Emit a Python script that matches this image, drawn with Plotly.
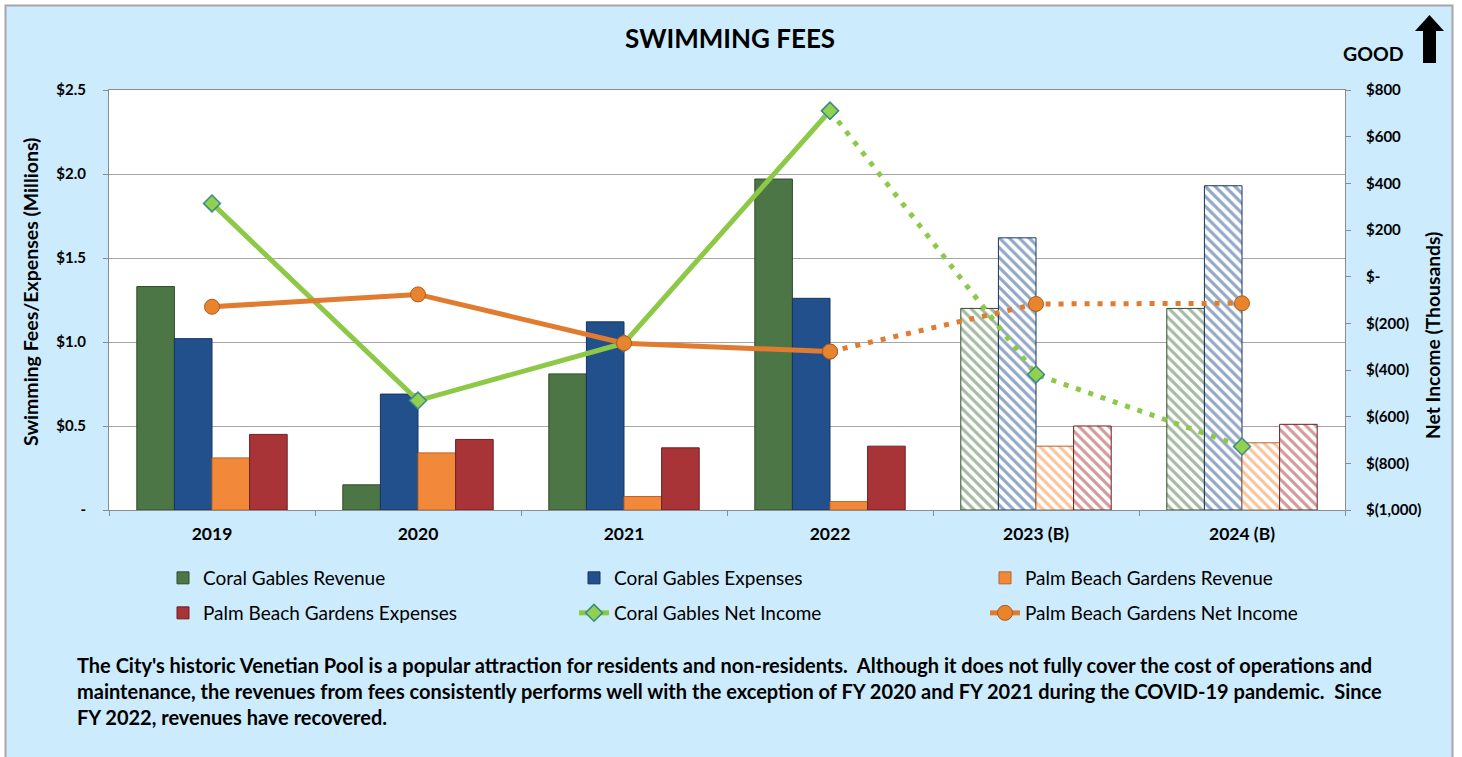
import plotly.graph_objects as go

# ---------------- data ----------------
years = ["2019", "2020", "2021", "2022", "2023 (B)", "2024 (B)"]
cg_revenue = [1.33, 0.15, 0.81, 1.97, 1.20, 1.20]          # $ millions
cg_expenses = [1.02, 0.69, 1.12, 1.26, 1.62, 1.93]
pbg_revenue = [0.31, 0.34, 0.08, 0.05, 0.38, 0.40]
pbg_expenses = [0.45, 0.42, 0.37, 0.38, 0.50, 0.51]
cg_net = [314, -531, -285, 711, -419, -728]               # $ thousands
pbg_net = [-129, -76, -285, -321, -117, -114]
budget_flag = [False, False, False, False, True, True]

left_tickvals = [0, 0.5, 1.0, 1.5, 2.0, 2.5]
left_ticktext = ["-", "$0.5", "$1.0", "$1.5", "$2.0", "$2.5"]
right_tickvals = [800, 600, 400, 200, 0, -200, -400, -600, -800, -1000]
right_ticktext = ["$800", "$600", "$400", "$200", "$-", "$(200)", "$(400)",
                  "$(600)", "$(800)", "$(1,000)"]

title_text = "SWIMMING FEES"
note_lines = [
    "The City's historic Venetian Pool is a popular attraction for residents and non-residents.  Although it does not fully cover the cost of operations and",
    "maintenance, the revenues from fees consistently performs well with the exception of FY 2020 and FY 2021 during the COVID-19 pandemic.  Since",
    "FY 2022, revenues have recovered.",
]

# ---------------- layout geometry ----------------
W, H = 1462, 757
L, R, T, B = 109, 1345, 90, 510
FONT = "Lato"
BG = "#CCEBFC"


def px(x):
    return (x - L) / (R - L)


def py(y):
    return (B - y) / (B - T)


fig = go.Figure()

bar_specs = [
    ("Coral Gables Revenue", cg_revenue, "#4C7646", "#2F4D2B", "legend"),
    ("Coral Gables Expenses", cg_expenses, "#22508C", "#16355E", "legend"),
    ("Palm Beach Gardens Revenue", pbg_revenue, "#F2893A", "#B8622A", "legend"),
    ("Palm Beach Gardens Expenses", pbg_expenses, "#A83438", "#6E1F22", "legend2"),
]
for name, vals, col, edge, lg in bar_specs:
    shapes = ["\\" if f else "" for f in budget_flag]
    fig.add_trace(go.Bar(
        x=years, y=vals, name=name, legend=lg,
        marker=dict(
            color=col,
            line=dict(color=edge, width=1),
            pattern=dict(shape=shapes, fgcolor=col, bgcolor="white",
                         size=7, solidity=0.45),
        ),
    ))

line_specs = [
    ("Coral Gables Net Income", cg_net, "#8DC846",
     dict(symbol="diamond", size=13, color="#92D050", line=dict(color="#3A8A8A", width=1.5))),
    ("Palm Beach Gardens Net Income", pbg_net, "#E07B30",
     dict(symbol="circle", size=15, color="#E9842E", line=dict(color="#B05A18", width=1))),
]
for name, vals, col, mk in line_specs:
    actual_x = [y for y, f in zip(years, budget_flag) if not f]
    actual_v = [v for v, f in zip(vals, budget_flag) if not f]
    n = len(actual_x)
    fig.add_trace(go.Scatter(
        x=years[n - 1:], y=vals[n - 1:], yaxis="y2", mode="lines+markers",
        line=dict(color=col, width=5, dash="5px,8px"), marker=mk,
        showlegend=False, legend="legend2",
    ))
    fig.add_trace(go.Scatter(
        x=actual_x, y=actual_v, yaxis="y2", mode="lines+markers", name=name,
        line=dict(color=col, width=5), marker=mk, legend="legend2",
    ))

fig.update_layout(
    width=W, height=H,
    margin=dict(l=L, r=W - R, t=T, b=H - B, pad=0),
    paper_bgcolor=BG, plot_bgcolor="white",
    font=dict(family=FONT, color="black"),
    barmode="group", bargap=0.27, bargroupgap=0,
    xaxis=dict(
        type="category", tickson="boundaries", ticks="outside", ticklen=5,
        tickcolor="#8C8C8C", showline=True, linecolor="#8C8C8C", mirror=True,
        showgrid=False, tickfont=dict(size=17.5, family=FONT, color="black", weight="bold"),
        ticklabelstandoff=8,
    ),
    yaxis=dict(
        range=[0, 2.5], tickvals=left_tickvals, ticktext=left_ticktext,
        ticks="outside", ticklen=5, tickcolor="#8C8C8C",
        showline=True, linecolor="#8C8C8C", showgrid=True, gridcolor="#A6A6A6",
        zeroline=False, tickfont=dict(size=15, family=FONT, weight="bold"),
        ticklabelstandoff=14,
    ),
    yaxis2=dict(
        range=[-1000, 800], tickvals=right_tickvals, ticktext=right_ticktext,
        overlaying="y", side="right", ticks="outside", ticklen=5,
        tickcolor="#8C8C8C", showline=True, linecolor="#8C8C8C",
        showgrid=False, zeroline=False,
        tickfont=dict(size=15, family=FONT, weight="bold"),
        ticklabelstandoff=12,
    ),
    legend=dict(orientation="h", x=px(163), y=py(578), xanchor="left",
                yanchor="middle", bgcolor="rgba(0,0,0,0)", entrywidth=366,
                entrywidthmode="pixels", font=dict(size=19, family=FONT),
                traceorder="normal"),
    legend2=dict(orientation="h", x=px(163), y=py(613), xanchor="left",
                 yanchor="middle", bgcolor="rgba(0,0,0,0)", entrywidth=366,
                 entrywidthmode="pixels", font=dict(size=19, family=FONT),
                 traceorder="normal"),
    showlegend=True,
)

# Chart frame: white outside strips and gray border
shapes = [
    dict(type="rect", xref="paper", yref="paper", x0=px(0), x1=px(W), y0=py(0), y1=py(5),
         fillcolor="white", line=dict(width=0), layer="below"),
    dict(type="rect", xref="paper", yref="paper", x0=px(0), x1=px(5), y0=py(0), y1=py(H),
         fillcolor="white", line=dict(width=0), layer="below"),
    dict(type="rect", xref="paper", yref="paper", x0=px(1453), x1=px(W), y0=py(0), y1=py(H),
         fillcolor="white", line=dict(width=0), layer="below"),
    dict(type="rect", xref="paper", yref="paper", x0=px(5.5), x1=px(1452.5), y0=py(5.5), y1=py(H + 5),
         line=dict(color="#A6A6A6", width=2), layer="below"),
]
# Up arrow ("GOOD" indicator)
arrow_pts = [(1429.5, 15), (1444, 31), (1436, 31), (1436, 63), (1423, 63), (1423, 31), (1415, 31)]
path = "M " + " L ".join(f"{px(x):.5f},{py(y):.5f}" for x, y in arrow_pts) + " Z"
shapes.append(dict(type="path", xref="paper", yref="paper", path=path,
                   fillcolor="black", line=dict(color="black", width=0)))
fig.update_layout(shapes=shapes)

ann = [
    dict(text=f"<b>{title_text}</b>", x=px(730), y=py(38), xref="paper", yref="paper",
         showarrow=False, font=dict(size=26, family=FONT), xanchor="center", yanchor="middle"),
    dict(text="<b>GOOD</b>", x=px(1406), y=py(53), xref="paper", yref="paper",
         showarrow=False, font=dict(size=19.5, family=FONT), xanchor="right", yanchor="middle"),
    dict(text="<b>Swimming Fees/Expenses (Millions)</b>", x=px(30), y=py(292),
         xref="paper", yref="paper", showarrow=False, textangle=-90,
         font=dict(size=19.5, family=FONT), xanchor="center", yanchor="middle"),
    dict(text="<b>Net Income (Thousands)</b>", x=px(1432), y=py(336),
         xref="paper", yref="paper", showarrow=False, textangle=-90,
         font=dict(size=19.3, family=FONT), xanchor="center", yanchor="middle"),
]
for i, line in enumerate(note_lines):
    ann.append(dict(text=f"<b>{line}</b>", x=px(75), y=py(665 + 26 * i),
                    xref="paper", yref="paper", showarrow=False, align="left",
                    font=dict(size=20, family=FONT), xanchor="left", yanchor="middle"))
fig.update_layout(annotations=ann)

fig.write_html("out.html", config={"displayModeBar": False},
               post_script="document.body.style.margin='0';")
